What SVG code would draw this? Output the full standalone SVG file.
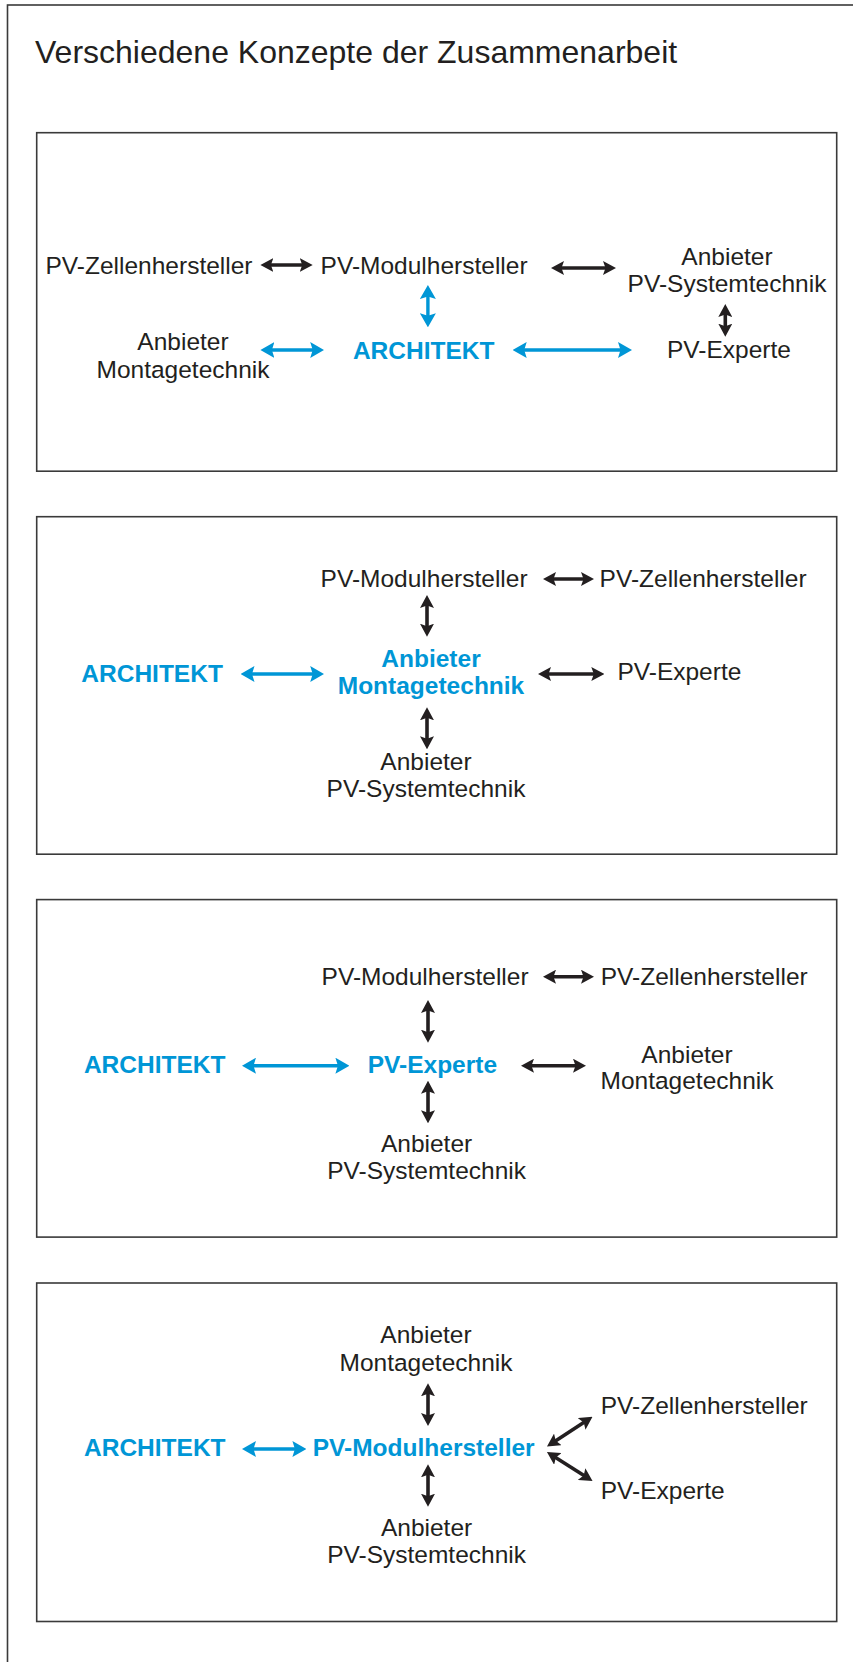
<svg xmlns="http://www.w3.org/2000/svg" width="853" height="1662" viewBox="0 0 853 1662">
<defs>
<style>
.t{font-family:"Liberation Sans",Arial,Helvetica,sans-serif;font-size:24.5px;fill:#231f20}
.b{font-family:"Liberation Sans",Arial,Helvetica,sans-serif;font-size:24.5px;font-weight:bold;fill:#0096d6}
.c{text-anchor:middle}
.title{font-family:"Liberation Sans",Arial,Helvetica,sans-serif;font-size:32px;fill:#231f20}
.frame{fill:none;stroke:#3a3a3a;stroke-width:1.6}
.ak{stroke:#231f20;stroke-width:3.6;fill:none;marker-start:url(#hk);marker-end:url(#hk)}
.ab{stroke:#0096d6;stroke-width:3.4;fill:none;marker-start:url(#hb);marker-end:url(#hb)}
</style>
<marker id="hk" viewBox="0 0 13 14" refX="7" refY="7" markerWidth="13" markerHeight="14" markerUnits="userSpaceOnUse" orient="auto-start-reverse">
<path d="M0,0 L13,7 L0,14 L2.5,7 Z" fill="#231f20"/>
</marker>
<marker id="hb" viewBox="0 0 14 16" refX="8" refY="8" markerWidth="14" markerHeight="16" markerUnits="userSpaceOnUse" orient="auto-start-reverse">
<path d="M0,0 L14,8 L0,16 L2.5,8 Z" fill="#0096d6"/>
</marker>
</defs>
<rect width="853" height="1662" fill="#ffffff"/>
<rect class="frame" x="7.5" y="5" width="860" height="1680"/>
<text class="title" x="35" y="63">Verschiedene Konzepte der Zusammenarbeit</text>

<g id="panel1">
<rect class="frame" x="36.7" y="132.7" width="800" height="338.5"/>
<g id="p1-zellen"><text class="t" x="45.5" y="274">PV-Zellenhersteller</text></g>
<g id="p1-modul"><text class="t" x="320.6" y="274">PV-Modulhersteller</text></g>
<g id="p1-system"><text class="t c" x="727" y="265">Anbieter</text><text class="t c" x="727" y="291.7">PV-Systemtechnik</text></g>
<g id="p1-experte"><text class="t c" x="729" y="358.3">PV-Experte</text></g>
<g id="p1-montage"><text class="t c" x="183" y="350">Anbieter</text><text class="t c" x="183" y="377.7">Montagetechnik</text></g>
<g id="p1-architekt"><text class="b c" x="423.7" y="359.3">ARCHITEKT</text></g>
<g id="p1-connectors">
<line class="ak" x1="266.4" y1="265" x2="306.7" y2="265"/>
<line class="ak" x1="557" y1="268" x2="610" y2="268"/>
<line class="ak" x1="725.3" y1="310" x2="725.3" y2="330.7"/>
<line class="ab" x1="427.9" y1="291" x2="427.9" y2="321.3"/>
<line class="ab" x1="266.4" y1="350" x2="318.2" y2="350"/>
<line class="ab" x1="518.7" y1="350" x2="626" y2="350"/>
</g>
</g>

<g id="panel2">
<rect class="frame" x="36.7" y="516.7" width="800" height="337.5"/>
<g id="p2-modul"><text class="t" x="320.6" y="586.7">PV-Modulhersteller</text></g>
<g id="p2-zellen"><text class="t" x="599.6" y="586.7">PV-Zellenhersteller</text></g>
<g id="p2-montage"><text class="b c" x="431" y="666.7">Anbieter</text><text class="b c" x="431" y="694">Montagetechnik</text></g>
<g id="p2-architekt"><text class="b" x="81.3" y="681.7">ARCHITEKT</text></g>
<g id="p2-experte"><text class="t" x="617.4" y="680">PV-Experte</text></g>
<g id="p2-system"><text class="t c" x="426" y="770">Anbieter</text><text class="t c" x="426" y="797.3">PV-Systemtechnik</text></g>
<g id="p2-connectors">
<line class="ak" x1="549" y1="579" x2="588" y2="579"/>
<line class="ak" x1="427" y1="601" x2="427" y2="630.7"/>
<line class="ab" x1="246.5" y1="674" x2="318.2" y2="674"/>
<line class="ak" x1="544" y1="674" x2="598.3" y2="674"/>
<line class="ak" x1="427" y1="713.3" x2="427" y2="743.3"/>
</g>
</g>

<g id="panel3">
<rect class="frame" x="36.7" y="899.6" width="800" height="337.5"/>
<g id="p3-modul"><text class="t" x="321.6" y="985">PV-Modulhersteller</text></g>
<g id="p3-zellen"><text class="t" x="600.7" y="985">PV-Zellenhersteller</text></g>
<g id="p3-architekt"><text class="b" x="83.9" y="1073.3">ARCHITEKT</text></g>
<g id="p3-experte"><text class="b" x="367.7" y="1073.3">PV-Experte</text></g>
<g id="p3-montage"><text class="t c" x="687" y="1062.7">Anbieter</text><text class="t c" x="687" y="1089.3">Montagetechnik</text></g>
<g id="p3-system"><text class="t c" x="426.6" y="1151.7">Anbieter</text><text class="t c" x="426.6" y="1179.3">PV-Systemtechnik</text></g>
<g id="p3-connectors">
<line class="ak" x1="549" y1="976.7" x2="588" y2="976.7"/>
<line class="ak" x1="428" y1="1006" x2="428" y2="1036.7"/>
<line class="ab" x1="248" y1="1065.7" x2="343.4" y2="1065.7"/>
<line class="ak" x1="527" y1="1065.7" x2="580" y2="1065.7"/>
<line class="ak" x1="428" y1="1086.7" x2="428" y2="1117.3"/>
</g>
</g>

<g id="panel4">
<rect class="frame" x="36.7" y="1283" width="800" height="338.5"/>
<g id="p4-montage"><text class="t c" x="426" y="1342.7">Anbieter</text><text class="t c" x="426" y="1370.7">Montagetechnik</text></g>
<g id="p4-zellen"><text class="t" x="600.7" y="1414.3">PV-Zellenhersteller</text></g>
<g id="p4-architekt"><text class="b" x="84" y="1455.7">ARCHITEKT</text></g>
<g id="p4-modul"><text class="b" x="312.7" y="1455.7">PV-Modulhersteller</text></g>
<g id="p4-experte"><text class="t" x="600.7" y="1499.3">PV-Experte</text></g>
<g id="p4-system"><text class="t c" x="426.6" y="1536">Anbieter</text><text class="t c" x="426.6" y="1562.7">PV-Systemtechnik</text></g>
<g id="p4-connectors">
<line class="ak" x1="428" y1="1389.3" x2="428" y2="1420"/>
<line class="ab" x1="248" y1="1449" x2="300.4" y2="1449"/>
<line class="ak" x1="552" y1="1443.3" x2="587.5" y2="1420"/>
<line class="ak" x1="552" y1="1455.2" x2="587.5" y2="1477.8"/>
<line class="ak" x1="428" y1="1470.3" x2="428" y2="1500.7"/>
</g>
</g>
</svg>
